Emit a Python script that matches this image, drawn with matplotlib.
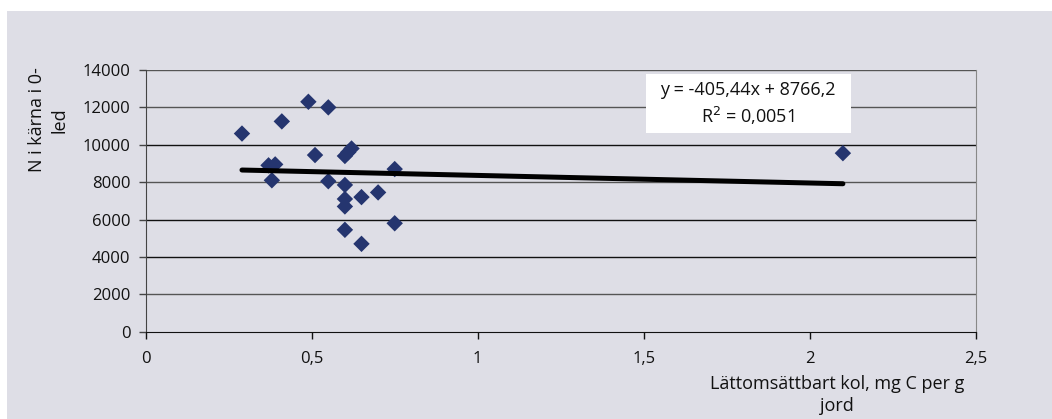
import matplotlib
matplotlib.use("Agg")
import matplotlib.pyplot as plt
from matplotlib.patches import Rectangle
import numpy as np

plt.rcParams['font.family'] = ['Open Sans', 'DejaVu Sans']

# Lättomsättbart kol (mg C per g jord) and N i kärna i 0-led
kol = [0.29, 0.37, 0.39, 0.38, 0.41, 0.49, 0.55, 0.51, 0.55, 0.60, 0.61, 0.62,
       0.60, 0.60, 0.60, 0.60, 0.65, 0.65, 0.70, 0.75, 0.75, 2.10]
n_karna = [10600, 8900, 8950, 8100, 11250, 12300, 12000, 9450, 8050, 9400, 9600, 9800,
           7850, 7100, 6700, 5450, 7200, 4700, 7450, 8700, 5800, 9550]

slope, intercept = -405.44, 8766.2
r2_text = "0,0051"

x_ticks = [0, 0.5, 1, 1.5, 2, 2.5]
x_ticklabels = ["0", "0,5", "1", "1,5", "2", "2,5"]
y_ticks = list(range(0, 14001, 2000))

W, H = 1052, 419
bg = '#dedee6'
fig = plt.figure(figsize=(W / 100, H / 100), dpi=100, facecolor='white')
fig.patches.append(Rectangle((7 / W, 0), 1 - 7 / W, 1 - 11 / H, transform=fig.transFigure,
                             facecolor=bg, edgecolor='none', zorder=-10))

ax = fig.add_axes([145.7 / W, 1 - 331.7 / H, (975.7 - 145.7) / W, (331.7 - 70) / H])
ax.set_facecolor(bg)
ax.set_xlim(0, 2.5)
ax.set_ylim(0, 14000)

for y in y_ticks[1:]:
    ax.axhline(y, color='#555555' if y in (2000, 8000, 12000, 14000) else '#111111',
               lw=1.0, zorder=1)

ax.scatter(kol, n_karna, marker='D', s=70, color='#25356f', edgecolors='none', zorder=3)

xs = np.array([min(kol), max(kol)])
ax.plot(xs, slope * xs + intercept, color='black', lw=3.6, solid_capstyle='round', zorder=4)

ax.spines['top'].set_visible(False)
ax.spines['right'].set_color('#888888')
ax.spines['left'].set_color('#444444')
ax.spines['bottom'].set_color('#111111')

ax.set_xticks(x_ticks)
ax.set_xticklabels(x_ticklabels)
ax.set_yticks(y_ticks)
ax.set_yticklabels([str(v) for v in y_ticks])
ax.tick_params(axis='both', labelsize=12, length=5, width=1, direction='out')
ax.tick_params(axis='x', pad=9, colors='#111111')
ax.tick_params(axis='y', pad=6, colors='#444444')
for lbl in ax.get_xticklabels() + ax.get_yticklabels():
    lbl.set_color('#111111')

fig.text(48 / W, 1 - 120 / H, "N i kärna i 0-\nled", rotation=90, ha='center', va='center',
         fontsize=13, color='#111111', linespacing=1.35)
fig.text(837 / W, 1 - 395 / H, "Lättomsättbart kol, mg C per g\njord", ha='center', va='center',
         fontsize=13, color='#111111', linespacing=1.35)

fig.patches.append(Rectangle((646 / W, 1 - 133 / H), 205 / W, 59 / H, transform=fig.transFigure,
                             facecolor='white', edgecolor='none', zorder=5))
fig.text(748 / W, 1 - 104 / H,
         "y = -405,44x + 8766,2\nR$^2$ = " + r2_text,
         ha='center', va='center', fontsize=13, color='#111111', linespacing=1.3, zorder=6)

fig.savefig("out.png", dpi=100, facecolor=fig.get_facecolor())
